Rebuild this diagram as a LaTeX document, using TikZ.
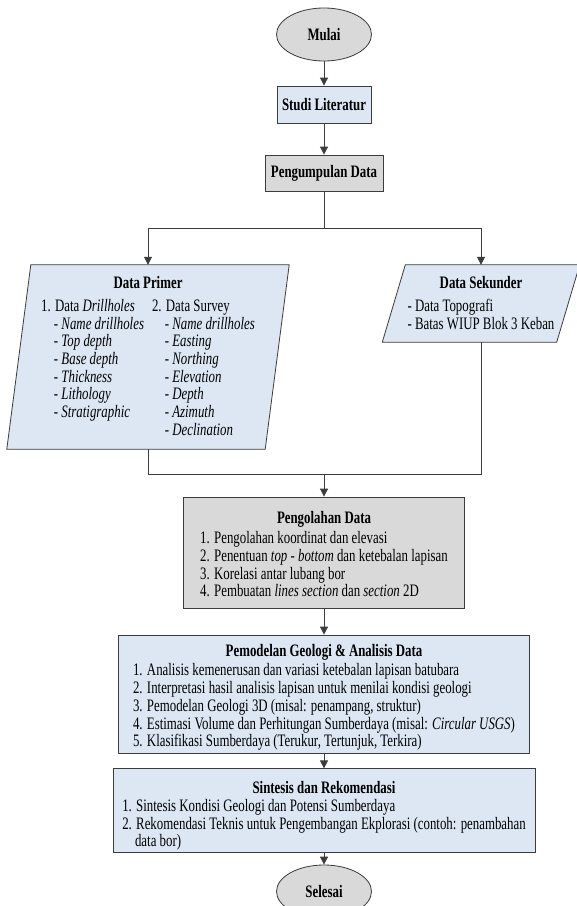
\documentclass[tikz,border=0pt]{standalone}
\usepackage{fontspec}
\setmainfont{Liberation Serif}[FakeStretch=0.735]
\usetikzlibrary{shapes.geometric,arrows.meta,backgrounds}

\definecolor{boxblue}{RGB}{220,231,243}
\definecolor{boxgray}{RGB}{217,217,217}
\definecolor{edge}{RGB}{60,60,60}
\newcommand{\subind}{\hspace*{12.8bp}}
\newcommand{\toppad}[1]{\rule{0pt}{#1}}

\begin{document}
\begin{tikzpicture}[x=1bp, y=-1bp,
  every node/.style={font={\fontsize{17.5bp}{17.7bp}\selectfont}},
  line/.style={draw=edge, line width=0.8bp},
  arr/.style={line, -{Triangle[length=8bp,width=8bp]}},
  base/.style={line, inner sep=0pt, align=center},
  terminal/.style={base, ellipse, fill=boxgray, minimum width=95bp, minimum height=53bp},
  bluebox/.style={base, rectangle, fill=boxblue},
  graybox/.style={base, rectangle, fill=boxgray},
  slantnode/.style={inner sep=0pt, align=center}]
  \useasboundingbox (0,0) rectangle (577,906);

  % start and first steps
  \node[terminal] (mulai) at (324,34.5) {\textbf{Mulai}};
  \node[bluebox, minimum width=94bp, minimum height=37bp] (studi) at (324,104.5) {\textbf{Studi Literatur}};
  \node[graybox, minimum width=118bp, minimum height=36bp] (kumpul) at (324,173) {\textbf{Pengumpulan Data}};

  % input data (parallelograms drawn behind)
  \node[slantnode, minimum width=258bp, minimum height=184bp] (primer) at (148,357)
    {\toppad{15bp}\textbf{Data Primer}\\[5.3bp]
     \begin{tabular}[t]{@{}l@{\hspace{8bp}}l@{}}
       1. Data \textit{Drillholes} & 2. Data Survey\\
       \subind\textit{- Name drillholes} & \subind\textit{- Name drillholes}\\
       \subind\textit{- Top depth} & \subind\textit{- Easting}\\
       \subind\textit{- Base depth} & \subind\textit{- Northing}\\
       \subind\textit{- Thickness} & \subind\textit{- Elevation}\\
       \subind\textit{- Lithology} & \subind\textit{- Depth}\\
       \subind\textit{- Stratigraphic} & \subind\textit{- Azimuth}\\
        & \subind\textit{- Declination}
     \end{tabular}};
  \node[slantnode, minimum width=174bp, minimum height=77bp] (sekunder) at (481,303.5)
    {\toppad{16bp}\textbf{Data Sekunder}\\[6bp]
     \begin{tabular}[t]{@{}l@{}}
       - Data Topografi\\
       - Batas WIUP Blok 3 Keban
     \end{tabular}};

  % processing
  \node[graybox, minimum width=281bp, minimum height=111bp] (olah) at (324,552.5)
    {\toppad{21bp}\textbf{Pengolahan Data}\\[2.3bp]
     \begin{tabular}[t]{@{}l@{}}
       1. Pengolahan koordinat dan elevasi\\
       2. Penentuan \textit{top - bottom} dan ketebalan lapisan\\
       3. Korelasi antar lubang bor\\
       4. Pembuatan \textit{lines section} dan \textit{section} 2D
     \end{tabular}};
  \node[bluebox, minimum width=411bp, minimum height=118bp] (model) at (324,694)
    {\toppad{21bp}\textbf{Pemodelan Geologi \& Analisis Data}\\[1.3bp]
     \begin{tabular}[t]{@{}l@{}}
       1. Analisis kemenerusan dan variasi ketebalan lapisan batubara\\
       2. Interpretasi hasil analisis lapisan untuk menilai kondisi geologi\\
       3. Pemodelan Geologi 3D (misal: penampang, struktur)\\
       4. Estimasi Volume dan Perhitungan Sumberdaya (misal: \textit{Circular USGS})\\
       5. Klasifikasi Sumberdaya (Terukur, Tertunjuk, Terkira)
     \end{tabular}};
  \node[bluebox, minimum width=422bp, minimum height=77bp] (sintesis) at (324,810.5)
    {\toppad{25bp}\textbf{Sintesis dan Rekomendasi}\\
     \begin{tabular}[t]{@{}l@{}}
       1. Sintesis Kondisi Geologi dan Potensi Sumberdaya\\
       2. Rekomendasi Teknis untuk Pengembangan Ekplorasi (contoh: penambahan\\
       \subind data bor)
     \end{tabular}};
  \node[terminal] (selesai) at (324,891.5) {\textbf{Selesai}};

  % branch and join points
  \coordinate (split) at (324,228);
  \coordinate (merge) at (324,474);

  \draw[arr] (mulai) -- (studi);
  \draw[arr] (studi) -- (kumpul);
  \draw[line] (kumpul) -- (split);
  \draw[arr] (split) -| (primer.north);
  \draw[arr] (split) -| (sekunder.north);
  \draw[line] (primer.south) |- (merge);
  \draw[line] (sekunder.south) |- (merge);
  \draw[arr] (merge) -- (olah);
  \draw[arr] (olah) -- (model);
  \draw[arr] (model) -- (sintesis);
  \draw[arr] (sintesis) -- (selesai);

  \begin{scope}[on background layer]
    \fill[white] (0,0) rectangle (577,906);
    \foreach \n/\s in {primer/12bp, sekunder/11.5bp}
      \filldraw[line, fill=boxblue] ([xshift=\s]\n.north west) -- ([xshift=\s]\n.north east)
        -- ([xshift=-\s]\n.south east) -- ([xshift=-\s]\n.south west) -- cycle;
  \end{scope}
\end{tikzpicture}
\end{document}
